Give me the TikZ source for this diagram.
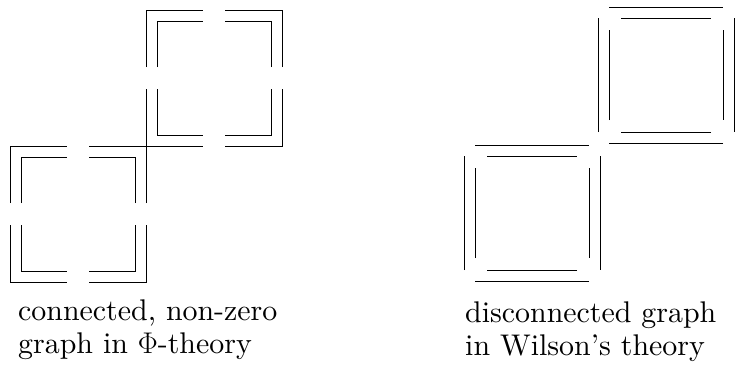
\documentclass[tikz,border=0pt]{standalone}
\usepackage{fix-cm}
\usepackage{fontspec}
\newfontfamily\lmten{lmroman10-regular.otf}[Ligatures=TeX]
\begin{document}
\begin{tikzpicture}[x=1pt,y=-1pt,
  graphline/.style={line width=0.95pt, line cap=butt, line join=miter},
  lbl/.style={anchor=base west, inner sep=0pt, font=\lmten\fontsize{29.9}{33}\selectfont},
  lsq/.pic={
    \foreach \sx in {-1,1} \foreach \sy in {-1,1} {
      \draw[graphline] (\sx*68,\sy*11) -- (\sx*68,\sy*68) -- (\sx*11,\sy*68);
      \draw[graphline] (\sx*57,\sy*11) -- (\sx*57,\sy*57) -- (\sx*11,\sy*57);
    }
  },
  wsq/.pic={
    \foreach \a in {0,90,180,270} {
      \draw[graphline, rotate=\a] (68,-57) -- (68,57);
      \draw[graphline, rotate=\a] (57,-45) -- (57,45);
    }
  }]
\useasboundingbox (0,0) rectangle (735,370);
% connected graph in Phi-theory
\pic at (214,78) {lsq};
\pic at (78,214) {lsq};
% disconnected graph in Wilson's theory
\pic at (666,75) {wsq};
\pic at (532,213) {wsq};
% labels
\node[lbl] (l1) at (18,320) {connected, non-zero};
\node[lbl] (l2) at (18,353) {graph in $\Phi$-theory};
\node[lbl] (r1) at (465,322) {disconnected graph};
\node[lbl] (r2) at (465,355) {in Wilson’s theory};
\end{tikzpicture}
\end{document}
